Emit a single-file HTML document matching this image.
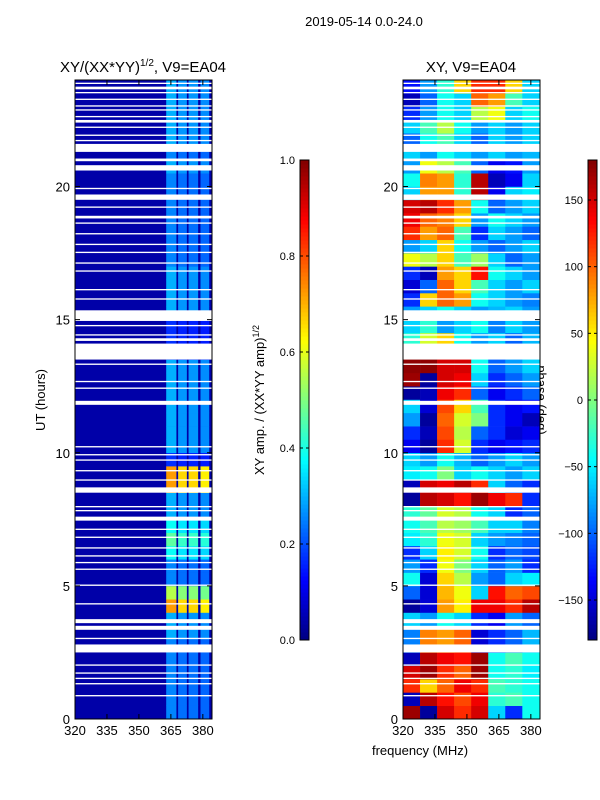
<!DOCTYPE html>
<html><head><meta charset="utf-8"><style>
body{margin:0;background:#fff;}
svg{display:block;font-family:"Liberation Sans",sans-serif;}
</style></head><body>
<svg id="fig" width="600" height="800">
<text x="364" y="26" font-size="13" text-anchor="middle">2019-05-14 0.0-24.0</text>
<text x="143" y="72" font-size="15" text-anchor="middle">XY/(XX*YY)<tspan font-size="10" dy="-6">1/2</tspan><tspan dy="6">, V9=EA04</tspan></text>
<text x="471" y="72" font-size="15" text-anchor="middle">XY, V9=EA04</text>
<text transform="translate(45,400) rotate(-90)" font-size="13" text-anchor="middle">UT (hours)</text>
<text x="420" y="755" font-size="13" text-anchor="middle">frequency (MHz)</text>
<text transform="translate(264,400) rotate(-90)" font-size="13" text-anchor="middle">XY amp. / (XX*YY amp)<tspan font-size="9" dy="-5">1/2</tspan></text>
<text transform="translate(537,400) rotate(90)" font-size="13" text-anchor="middle">phase (deg)</text>
<g id="left"></g>
<g id="right"></g>
<g id="cb"></g>
<g id="axes"></g>
</svg>
<script>
// ---- data ----
const hourTicks=[0,5,10,15,20];
const freqTicks=[320,335,350,365,380];
const ampTicks=[0.0,0.2,0.4,0.6,0.8,1.0];
const phaseTicks=[-150,-100,-50,0,50,100,150];
const bandStripes=[[362.8,367.6],[368.4,372.5],[373.3,377.8],[378.9,383]];
const stripeFactor=[0.85,0.78,0.78,0.75];
const backgroundAmp=0.04;
// band amplitude per 0.5 h row (0..24h)
const bandAmp=[0.3,0.3,0.3,0.3,0.3,0.3,0.35,0.35,0.85,0.65,0.3,0.3,0.45,0.55,0.45,0.35,0.35,0.85,0.85,0.2,
0.35,0.35,0.35,0.35,0.35,0.35,0.35,0.2,0.2,0.2,0.35,0.35,0.35,0.35,0.3,0.3,0.3,0.3,0.3,0.3,
0.3,0.35,0.3,0.35,0.35,0.35,0.35,0.35];
const phaseCols=[320,328,336,344,352,360,368,376,384];
const phase=[
[170,-170,150,120,150,-60,-120,-40],[-160,160,130,110,140,-30,-20,-40],[120,60,100,140,120,-20,-30,-40],
[150,170,120,100,170,-40,-30,-50],[-160,160,140,130,170,-40,-20,-40],[-90,90,80,100,-150,-120,-100,-70],
[-90,90,80,100,-150,-120,-100,-70],[-60,-80,-40,-60,-120,-140,-80,-100],[-170,-150,80,50,140,140,120,160],
[-100,-150,70,40,-60,130,100,110],[-40,-150,60,20,-80,-100,-60,-50],[-80,-120,40,0,-60,-100,-80,-120],
[-120,-60,50,30,-40,-120,-100,-110],[-50,-30,40,30,-60,-80,-90,-100],[-40,-20,20,10,-20,-60,-60,-90],
[-30,-10,30,20,-40,-60,-120,-100],[-170,160,150,130,170,140,120,-120],[-160,150,140,160,120,-60,-100,-120],
[-50,-40,0,-60,-40,-60,-80,-60],[-60,-80,-40,-70,-100,-80,-60,-80],[-140,-170,120,30,-120,-140,-130,-120],
[-120,-160,110,20,-100,-120,-150,-140],[-80,-170,100,30,0,-120,-140,-160],[-60,-150,110,60,-20,-120,-140,-130],
[-170,-160,140,120,-100,-140,-120,-100],[170,-170,150,140,-60,-120,-100,-80],[175,175,150,150,-40,-100,-80,-60],
[175,175,150,150,-40,-100,-80,-60],[-30,30,60,-40,-80,-60,-100,-70],[-60,-30,-80,-60,-40,-90,-60,-80],
[-80,-60,-40,-60,-80,-70,-60,-80],[-120,60,100,80,-40,-60,-80,-90],[-150,-100,100,60,-20,-60,-80,-60],
[-120,-160,80,60,130,-40,-60,-80],[40,20,60,-20,10,-60,-100,-80],[-80,-60,60,-40,-80,-100,-80,-60],
[120,80,100,-20,-120,-60,-80,-100],[140,100,90,60,-80,-40,-60,-80],[150,160,120,80,-40,-100,-80,-60],
[-60,80,80,-30,160,-140,-60,-50],[-40,90,80,-30,160,-160,-140,-60],[-80,40,20,-20,-100,-140,-130,-80],
[-60,-80,-40,-60,-80,-60,-80,-70],[-100,-40,-20,-60,-100,-60,-80,-60],[-60,-20,20,-40,-80,-60,-80,-60],
[-120,-80,-40,-60,20,40,-60,-40],[-160,-100,-40,-60,100,80,-20,-60],[-130,-80,-30,60,120,120,60,-60]];
const gaps=[[0.85,0.9],[1.3,1.35],[1.5,1.55],[1.7,1.75],[2.0,2.05],[2.5,2.8],[3.0,3.05],[3.35,3.5],[3.6,3.75],[4.3,4.35],
[5.0,5.05],[5.6,5.65],[5.85,5.9],[6.1,6.15],[6.4,6.45],[6.8,6.85],[7.1,7.15],[7.45,7.6],[7.8,7.85],[7.95,8.0],[8.5,8.7],
[8.95,9.0],[9.3,9.35],[9.7,9.75],[9.9,9.95],[10.2,10.25],[11.8,11.95],[12.4,12.45],[12.65,12.7],[13.3,13.35],[13.5,14.1],
[14.2,14.3],[14.4,14.45],[14.75,14.8],[14.95,15.35],[15.75,15.8],[16.1,16.15],[16.8,16.85],[17.1,17.15],[17.5,17.55],
[17.8,17.85],[18.2,18.25],[18.6,18.65],[18.8,18.9],[19.2,19.25],[19.5,19.7],[19.9,19.95],[20.6,20.8],[20.95,21.05],
[21.3,21.6],[21.7,21.75],[21.9,21.95],[22.2,22.25],[22.4,22.5],[22.6,22.65],[22.85,22.9],[23.0,23.05],[23.25,23.3],
[23.5,23.55],[23.65,23.75],[23.85,23.9]];
// ---- scales ----
const NS='http://www.w3.org/2000/svg';
const plotTop=80,plotBot=719,fmin=320,fmax=384.3;
const yS=h=>plotBot-(h/24)*(plotBot-plotTop);
const mkX=x0=>f=>x0+(f-fmin)/(fmax-fmin)*137;
const xL=mkX(75),xR=mkX(403);
function jet(v){v=Math.max(0,Math.min(1,v));
 const c=t=>Math.round(255*Math.max(0,Math.min(1,1.5-Math.abs(4*v-t))));
 return `rgb(${c(3)},${c(2)},${c(1)})`;}
function el(tag,attrs,parent){const e=document.createElementNS(NS,tag);for(const k in attrs)e.setAttribute(k,attrs[k]);parent.appendChild(e);return e;}
const L=document.getElementById('left'),R=document.getElementById('right'),CB=document.getElementById('cb'),AX=document.getElementById('axes');
// left heatmap
let bg=el('rect',{x:xL(fmin),y:plotTop,width:137,height:plotBot-plotTop,fill:jet(backgroundAmp)},L);


bandAmp.forEach((a,i)=>{bandStripes.forEach((s,j)=>{
 const r=el('rect',{x:xL(s[0]),y:yS(i*0.5+0.5),width:xL(s[1])-xL(s[0]),height:yS(0)-yS(0.5)+0.3,fill:jet(a*stripeFactor[j])},L);
 
 
});});
// right heatmap
phase.forEach((row,i)=>{row.forEach((p,j)=>{
 const r=el('rect',{x:xR(phaseCols[j]),y:yS(i*0.5+0.5),width:xR(Math.min(phaseCols[j+1],fmax))-xR(phaseCols[j])+0.3,height:yS(0)-yS(0.5)+0.3,fill:jet((p+180)/360)},R);
 
 
});});
// gaps
[[L,75],[R,403]].forEach(([g,x0])=>gaps.forEach(gp=>{
 const r=el('rect',{x:x0,y:yS(gp[1]),width:137,height:yS(gp[0])-yS(gp[1]),fill:'#fff'},g);
 
 
}));
// axes frames & ticks
[[75,xL],[403,xR]].forEach(([x0,xs])=>{
 const f=el('rect',{x:x0,y:plotTop,width:137,height:plotBot-plotTop,fill:'none',stroke:'#000','stroke-width':1},AX);
 
 
 hourTicks.forEach(h=>{
  el('line',{x1:x0,x2:x0+5,y1:yS(h),y2:yS(h),stroke:'#000'},AX);
  el('line',{x1:x0+137,x2:x0+132,y1:yS(h),y2:yS(h),stroke:'#000'},AX);
  const t=el('text',{x:x0-5,y:yS(h)+5,'font-size':13,'text-anchor':'end'},AX);t.textContent=h;
  
  
 });
 freqTicks.forEach(fq=>{
  el('line',{x1:xs(fq),x2:xs(fq),y1:plotBot,y2:plotBot-5,stroke:'#000'},AX);
  el('line',{x1:xs(fq),x2:xs(fq),y1:plotTop,y2:plotTop+5,stroke:'#000'},AX);
  const t=el('text',{x:xs(fq),y:plotBot+16,'font-size':13,'text-anchor':'middle'},AX);t.textContent=fq;
  
  
 });
});
// colorbars
const cbTop=160,cbBot=640;
[[300,ampTicks,v=>v,v=>v.toFixed(1)],[588,phaseTicks,v=>(v+180)/360,v=>v<0?'\u2212'+(-v):String(v)]].forEach(([x0,ticks,norm,fmt])=>{
 for(let k=0;k<120;k++){const v=k/120;
  el('rect',{x:x0,y:cbBot-(k+1)*(cbBot-cbTop)/120,width:9,height:(cbBot-cbTop)/120+0.5,fill:jet(v+0.5/120)},CB);}
 const fr=el('rect',{x:x0,y:cbTop,width:9,height:cbBot-cbTop,fill:'none',stroke:'#000'},CB);
 
 
 ticks.forEach(v=>{const y=cbBot-norm(v)*(cbBot-cbTop);
  el('line',{x1:x0,x2:x0+3,y1:y,y2:y,stroke:'#000'},CB);
  el('line',{x1:x0+9,x2:x0+6,y1:y,y2:y,stroke:'#000'},CB);
  const t=el('text',{x:x0-5,y:y+4,'font-size':11,'text-anchor':'end'},CB);t.textContent=fmt(v);
  
  
 });
});
</script>
</body></html>
